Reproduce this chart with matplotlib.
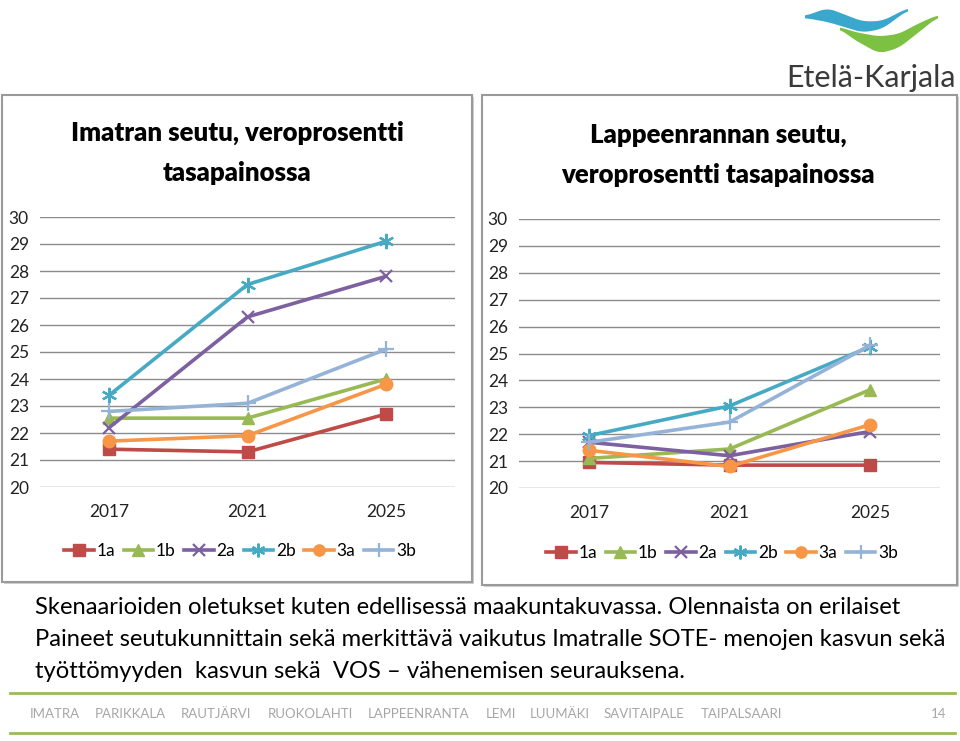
import numpy as np
import matplotlib
matplotlib.use("Agg")
import matplotlib.pyplot as plt
from matplotlib.patches import Rectangle, Polygon

# data
years = ["2017", "2021", "2025"]
series = ["1a", "1b", "2a", "2b", "3a", "3b"]
imatra = {
    "1a": [21.4, 21.3, 22.7],
    "1b": [22.55, 22.55, 24.0],
    "2a": [22.2, 26.3, 27.8],
    "2b": [23.4, 27.5, 29.1],
    "3a": [21.7, 21.9, 23.8],
    "3b": [22.8, 23.1, 25.1],
}
lappeenranta = {
    "1a": [20.95, 20.85, 20.85],
    "1b": [21.1, 21.45, 23.65],
    "2a": [21.7, 21.2, 22.1],
    "2b": [21.95, 23.05, 25.25],
    "3a": [21.4, 20.8, 22.35],
    "3b": [21.7, 22.45, 25.3],
}
titles = ["Imatran seutu, veroprosentti\ntasapainossa",
          "Lappeenrannan seutu,\nveroprosentti tasapainossa"]
body = ["Skenaarioiden oletukset kuten edellisessä maakuntakuvassa. Olennaista on erilaiset",
        "Paineet seutukunnittain sekä merkittävä vaikutus Imatralle SOTE- menojen kasvun sekä",
        "työttömyyden  kasvun sekä  VOS – vähenemisen seurauksena."]
footer = ["IMATRA", "PARIKKALA", "RAUTJÄRVI", "RUOKOLAHTI", "LAPPEENRANTA",
          "LEMI", "LUUMÄKI", "SAVITAIPALE", "TAIPALSAARI"]

colors = {"1a": "#be4b48", "1b": "#98b954", "2a": "#7d60a0",
          "2b": "#46aac5", "3a": "#f79646", "3b": "#95b3d7"}
markers = {"1a": ("s", 9), "1b": ("^", 9), "2a": ("x", 9),
           "2b": ((6, 2, 0), 11), "3a": ("o", 9), "3b": ("+", 11)}

FONT = ["Lato", "DejaVu Sans"]
plt.rcParams["font.family"] = FONT

W, H = 960, 741
fig = plt.figure(figsize=(9.6, 7.41), dpi=100)


def box(x0, y0, x1, y1):
    return [x0 / W, 1 - y1 / H, (x1 - x0) / W, (y1 - y0) / H]


def wave(x0, x1, cu, cy, tu, tk):
    # smooth tapered band for the logo
    u = np.linspace(0, 1, 200)
    c = np.interp(u, cu, cy)
    th = np.interp(u, tu, tk)
    k = np.ones(31) / 31
    c = np.convolve(np.pad(c, 15, mode="edge"), k, mode="valid")
    th = np.convolve(np.pad(th, 15, mode="edge"), k, mode="valid")
    xs = x0 + (x1 - x0) * u
    top = c - th / 2
    bot = c + th / 2
    return np.c_[np.r_[xs, xs[::-1]], np.r_[top, bot[::-1]]]


# background layer in pixel coords
bg = fig.add_axes([0, 0, 1, 1], zorder=0)
bg.set_xlim(0, W)
bg.set_ylim(H, 0)
bg.axis("off")

for (x0, y0, x1, y1) in [(2, 95, 472, 582), (482, 95, 957, 585)]:
    bg.add_patch(Rectangle((x0 + 2, y0 + 2), x1 - x0, y1 - y0, fc="#d0d0d0", ec="none"))
    bg.add_patch(Rectangle((x0, y0), x1 - x0, y1 - y0, fc="white", ec="#9a9a9a", lw=1.5))

# logo
bg.add_patch(Polygon(wave(805, 908, [0, 0.22, 0.56, 0.75, 1], [17, 15, 27, 25, 9],
                          [0, 0.22, 0.56, 0.75, 1], [2, 14, 11, 8, 2]),
                     fc="#3aa8cc", ec="none"))
bg.add_patch(Polygon(wave(840, 938, [0, 0.15, 0.4, 0.6, 0.8, 1], [28, 36, 45, 41, 28, 16],
                          [0, 0.15, 0.4, 0.6, 0.8, 1], [2, 8, 17, 14, 9, 2]),
                     fc="#7dc142", ec="none"))
bg.text(871, 78, "Etelä-Karjala", ha="center", va="center", fontsize=22, color="#3a3a3a")

# body text
for i, line in enumerate(body):
    bg.text(35, 607 + 32 * i, line, ha="left", va="center", fontsize=17.1, color="black")

# footer
bg.plot([10, 955], [693, 693], color="#9bbb59", lw=2)
bg.plot([10, 955], [733, 733], color="#9bbb59", lw=2)
fx = [30, 95, 181, 268, 368, 486, 530, 604, 701]
ffam = ["Liberation Sans Narrow", "Lato", "DejaVu Sans"]
for name, x in zip(footer, fx):
    bg.text(x, 714, name, ha="left", va="center", fontsize=9.5, color="#a6a6a6", family=ffam)
bg.text(946, 714, "14", ha="right", va="center", fontsize=9.5, color="#a6a6a6", family=ffam)

panels = [
    (imatra, box(40, 217, 455, 487), 237, (133, 173), (240, 551)),
    (lappeenranta, box(519, 219, 940, 488), 718, (135, 175), (722, 553)),
]

for (data, rect, tx, ty, lg), title in zip(panels, titles):
    ax = fig.add_axes(rect, zorder=2)
    ax.patch.set_alpha(0)
    x = np.arange(len(years))
    for s in series:
        m, ms = markers[s]
        ax.plot(x, data[s], color=colors[s], lw=2.6, marker=m, markersize=ms,
                markeredgewidth=1.6 if m in ("x", "+") or isinstance(m, tuple) else 1,
                markeredgecolor=colors[s], label=s, clip_on=False)
    ax.set_xlim(-0.5, 2.5)
    ax.set_ylim(20, 30)
    ax.set_yticks(range(20, 31))
    ax.set_xticks(x)
    ax.set_xticklabels(years)
    ax.grid(axis="y", color="#8c8c8c", lw=1)
    ax.set_axisbelow(True)
    for sp in ax.spines.values():
        sp.set_visible(False)
    ax.tick_params(length=0, labelsize=12.5, colors="#222222")
    ax.tick_params(axis="y", pad=8)
    ax.tick_params(axis="x", pad=12)
    for ln, yy in zip(title.split("\n"), ty):
        bg.text(tx, yy, ln, ha="center", va="center", fontsize=18.5, fontweight="heavy",
                color="black")
    ax.legend(loc="center", bbox_to_anchor=(lg[0] / W, 1 - lg[1] / H),
              bbox_transform=fig.transFigure, ncol=6, frameon=False,
              handlelength=1.7, columnspacing=0.5, handletextpad=0.15,
              fontsize=12.5, markerscale=0.9)

fig.savefig("out.png", dpi=100)
